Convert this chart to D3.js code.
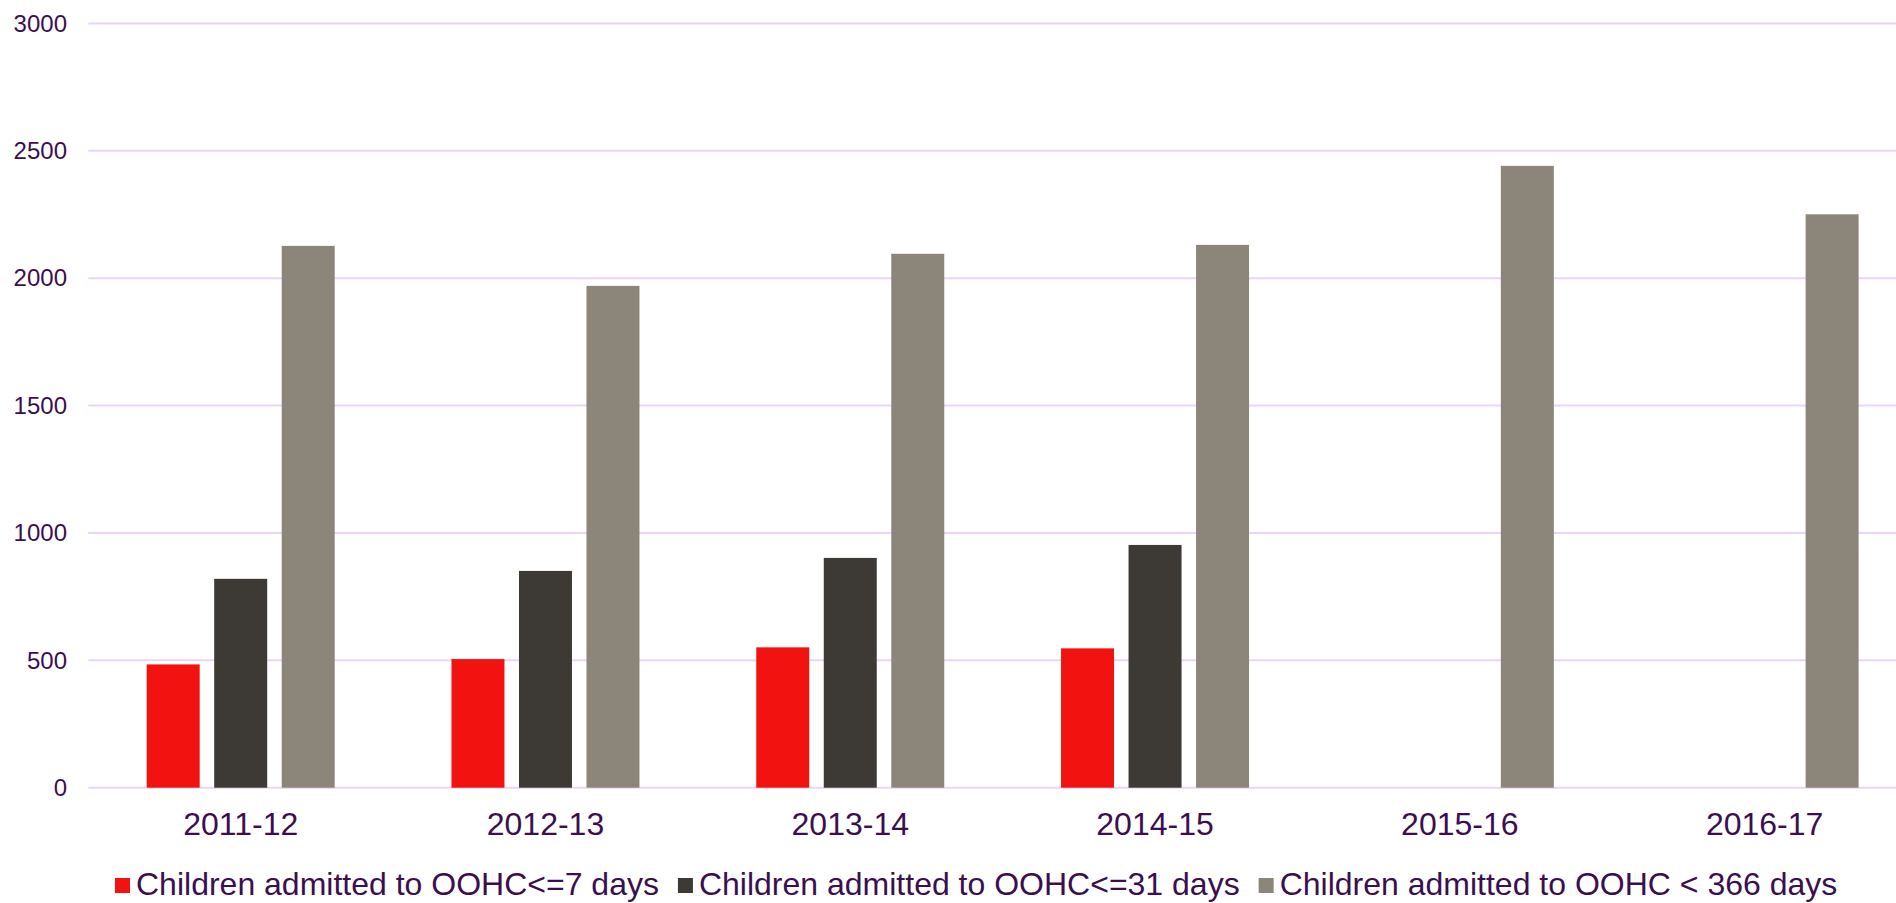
<!DOCTYPE html>
<html>
<head>
<meta charset="utf-8">
<script src="https://cdn.jsdelivr.net/npm/d3@7"></script>
<style>
  html, body { margin: 0; padding: 0; background: #fff; }
  svg { display: block; }
  text { font-family: "Liberation Sans", Arial, sans-serif; fill: #3B0F4F; }
</style>
</head>
<body>
<svg id="chart" width="1896" height="903"></svg>
<script>
const categories = ["2011-12", "2012-13", "2013-14", "2014-15", "2015-16", "2016-17"];
const seriesNames = [
  "Children admitted to OOHC<=7 days",
  "Children admitted to OOHC<=31 days",
  "Children admitted to OOHC < 366 days"
];
const seriesColors = ["#F2120F", "#3D3A35", "#8C857A"];
const le7days = [484, 505, 551, 547, null, null];
const le31days = [820, 851, 902, 953, null, null];
const lt366days = [2127, 1970, 2096, 2131, 2441, 2251];
const yTicks = [0, 500, 1000, 1500, 2000, 2500, 3000];

const seriesValues = [le7days, le31days, lt366days];

const svg = d3.select("#chart");
const W = 1896, H = 903;
const plotLeft = 88.3, plotRight = 1917, yBottom = 787.7, yTop = 23.5;

const x0 = d3.scaleBand().domain(categories).range([plotLeft, plotRight]).paddingInner(0).paddingOuter(0);
const x1 = d3.scaleBand().domain(d3.range(seriesNames.length)).range([0, x0.bandwidth()])
  .paddingInner(0.215).paddingOuter(0.865);
const y = d3.scaleLinear().domain([0, 3000]).range([yBottom, yTop]);

// gridlines
svg.append("g").selectAll("line").data(yTicks).join("line")
  .attr("x1", plotLeft).attr("x2", W)
  .attr("y1", d => y(d)).attr("y2", d => y(d))
  .attr("stroke", "#EAD6F3").attr("stroke-width", 2);

// y axis labels
const yAxis = d3.axisLeft(y).tickValues(yTicks).tickSize(0).tickPadding(0).tickFormat(d3.format("d"));
const yg = svg.append("g").attr("transform", "translate(67,0)").call(yAxis);
yg.select(".domain").remove();
yg.selectAll("text").style("font-size", "24px").attr("fill", "#3B0F4F")
  .style("font-family", "'Liberation Sans', Arial, sans-serif");

// bars
const groups = svg.append("g").selectAll("g").data(categories).join("g")
  .attr("transform", d => `translate(${x0(d)},0)`);
groups.selectAll("rect")
  .data((c, ci) => seriesValues.map((vals, si) => ({ si, v: vals[ci] })).filter(d => d.v != null))
  .join("rect")
  .attr("x", d => x1(d.si))
  .attr("width", x1.bandwidth())
  .attr("y", d => y(d.v))
  .attr("height", d => y(0) - y(d.v))
  .attr("fill", d => seriesColors[d.si]);

// x axis labels
const xAxis = d3.axisBottom(x0).tickSize(0).tickPadding(0);
const xg = svg.append("g").attr("transform", `translate(0,${yBottom})`).call(xAxis);
xg.select(".domain").remove();
xg.selectAll("text").attr("dy", null).attr("y", 47).attr("fill", "#3B0F4F")
  .style("font-size", "32px").style("font-family", "'Liberation Sans', Arial, sans-serif");

// legend
const legend = svg.append("g");
let lx = 115;
seriesNames.forEach((name, i) => {
  legend.append("rect").attr("x", lx).attr("y", 878).attr("width", 15).attr("height", 15)
    .attr("fill", seriesColors[i]);
  const t = legend.append("text").attr("x", lx + 21).attr("y", 895)
    .style("font-size", "32px").text(name);
  const w = t.node().getComputedTextLength();
  lx = lx + 21 + w + 19;
});
</script>
</body>
</html>
